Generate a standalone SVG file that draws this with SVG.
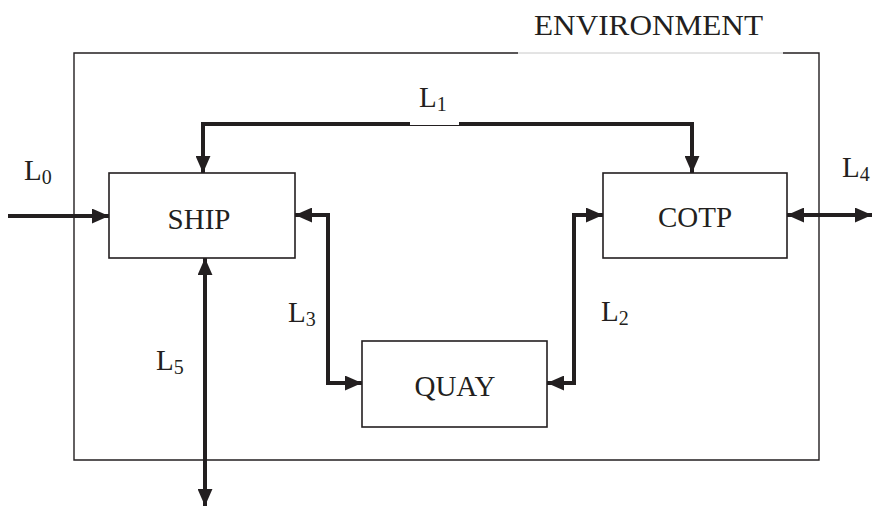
<svg xmlns="http://www.w3.org/2000/svg" width="873" height="506" viewBox="0 0 873 506">
<style>
.box{fill:#fff;stroke:#231f20;stroke-width:1.6}
.env{fill:none;stroke:#231f20;stroke-width:1.4}
.con{fill:none;stroke:#231f20;stroke-width:4;stroke-linejoin:miter}
.t{font-family:"Liberation Serif","Times New Roman",serif;font-size:29px;fill:#231f20}
.s{font-size:20px}
</style>
<defs>
<marker id="ah" markerUnits="userSpaceOnUse" markerWidth="17" markerHeight="15" refX="16" refY="7" orient="auto-start-reverse" viewBox="0 0 16 14">
<path d="M0,0 L16,7 L0,14 z" fill="#231f20"/>
</marker>
</defs>
<rect width="873" height="506" fill="#fff"/>
<g id="environment">
<path class="env" d="M518,53 H74 V460 H819 V53 H783"/>
<line x1="518" y1="53" x2="783" y2="53" stroke="#c8c8c8" stroke-width="1"/>
<text class="t" x="534" y="35" textLength="229" lengthAdjust="spacingAndGlyphs">ENVIRONMENT</text>
</g>
<g id="ship">
<rect class="box" x="109" y="173" width="186" height="85"/>
<text class="t" x="199" y="229" text-anchor="middle">SHIP</text>
</g>
<g id="cotp">
<rect class="box" x="603" y="173" width="184" height="85"/>
<text class="t" x="695" y="227" text-anchor="middle">COTP</text>
</g>
<g id="quay">
<rect class="box" x="362" y="341" width="185" height="86"/>
<text class="t" x="455" y="396" text-anchor="middle">QUAY</text>
</g>
<g id="connectors">
<line class="con" x1="8" y1="216" x2="109" y2="216" marker-end="url(#ah)"/>
<path class="con" d="M203,173 V124 H692 V173" marker-start="url(#ah)" marker-end="url(#ah)"/>
<rect x="410" y="121" width="49" height="4" fill="#fff"/>
<line x1="410" y1="125.5" x2="459" y2="125.5" stroke="#231f20" stroke-width="1"/>
<path class="con" d="M295,215 H328 V383 H362" marker-start="url(#ah)" marker-end="url(#ah)"/>
<path class="con" d="M603,215 H574 V383 H547" marker-start="url(#ah)" marker-end="url(#ah)"/>
<line class="con" x1="787" y1="215" x2="872" y2="215" marker-start="url(#ah)" marker-end="url(#ah)"/>
<line class="con" x1="205" y1="258" x2="205" y2="506" marker-start="url(#ah)" marker-end="url(#ah)"/>
</g>
<g id="labels">
<text class="t" x="24" y="180">L<tspan class="s" dy="4">0</tspan></text>
<text class="t" x="419" y="107">L<tspan class="s" dy="4">1</tspan></text>
<text class="t" x="601" y="321">L<tspan class="s" dy="4">2</tspan></text>
<text class="t" x="288" y="322">L<tspan class="s" dy="4">3</tspan></text>
<text class="t" x="842" y="177">L<tspan class="s" dy="4">4</tspan></text>
<text class="t" x="156" y="370">L<tspan class="s" dy="4">5</tspan></text>
</g>
</svg>
